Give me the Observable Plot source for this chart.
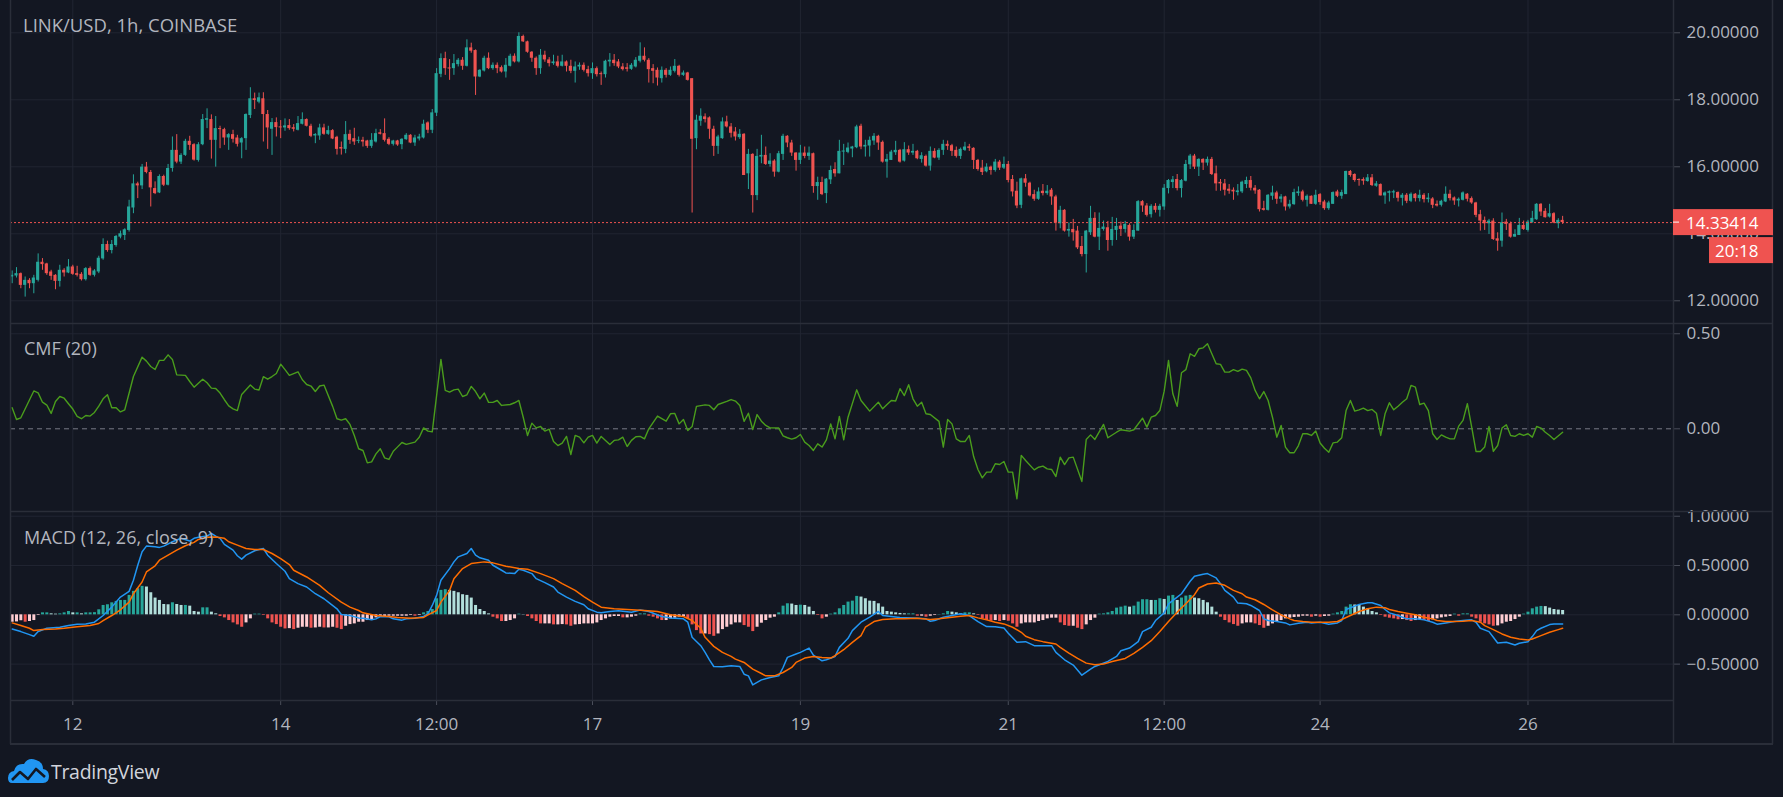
<!DOCTYPE html>
<html><head><meta charset="utf-8">
<script src="https://cdn.jsdelivr.net/npm/d3@7"></script>
<script src="https://cdn.jsdelivr.net/npm/@observablehq/plot@0.6"></script>
<style>
html,body{margin:0;padding:0;background:#131722;}
#wrap{position:relative;width:1783px;height:797px;background:#131722;overflow:hidden;}
#wrap svg.pane{position:absolute;left:0;}
#overlay{position:absolute;left:0;top:0;pointer-events:none;}
</style></head><body><div id="wrap"></div><script>
// ---------- DATA (hourly candles, index 0 = Nov 11 10:00) ----------
const opens = [
12.71,12.74,12.81,12.46,12.61,12.51,12.61,13.15,13.10,12.86,
12.76,12.58,12.91,12.83,13.01,12.81,12.79,12.63,12.96,12.76,
12.86,13.25,13.68,13.50,13.65,13.90,13.95,14.10,14.77,15.49,
15.43,15.99,15.83,15.35,15.22,15.71,15.45,15.95,16.49,16.14,
16.34,16.76,16.66,16.19,16.66,17.39,17.41,16.79,17.14,17.11,
16.86,16.96,16.86,16.71,16.84,17.53,18.03,17.93,18.03,17.56,
17.12,17.32,17.19,17.16,17.23,17.14,17.09,17.27,17.41,17.21,
16.92,16.92,17.16,16.97,17.08,16.88,16.55,16.52,16.97,16.84,
16.76,16.79,16.77,16.61,16.74,16.99,16.99,16.82,16.67,16.77,
16.66,16.81,16.94,16.71,16.83,16.86,17.31,17.09,17.60,18.76,
19.23,18.95,18.93,19.05,19.18,19.00,19.55,19.47,18.68,18.86,
19.24,18.93,19.03,18.96,18.83,19.00,19.30,19.13,19.89,19.73,
19.42,19.24,18.93,19.33,19.19,19.08,19.13,19.00,19.13,19.00,
18.85,18.98,19.03,18.90,18.78,18.93,18.78,18.75,19.13,19.18,
19.13,18.98,18.93,18.91,18.98,19.15,19.30,19.18,18.93,18.88,
18.63,18.88,18.73,18.85,19.00,18.73,18.80,18.63,16.84,17.36,
17.49,17.46,17.12,16.61,16.84,17.34,17.19,17.04,16.87,16.97,
15.79,16.37,15.14,16.29,16.34,16.07,16.17,15.84,16.37,16.91,
16.71,16.41,16.19,16.41,16.31,16.39,15.41,15.53,15.20,15.61,
15.92,15.79,16.44,16.43,16.53,16.57,17.21,16.59,16.62,16.77,
16.91,16.73,16.14,16.19,16.42,16.49,16.17,16.51,16.41,16.46,
16.22,16.31,16.02,16.46,16.26,16.49,16.67,16.63,16.49,16.31,
16.49,16.57,16.55,16.19,15.96,15.85,15.99,15.89,16.14,15.96,
16.07,15.62,15.27,14.85,15.64,15.51,15.17,15.03,15.27,15.20,
15.30,15.10,14.30,14.70,14.08,14.13,14.08,13.62,13.38,14.03,
14.46,13.90,14.13,14.18,13.80,14.10,14.23,14.13,14.25,13.90,
14.08,14.96,14.83,14.57,14.82,14.70,14.80,15.35,15.53,15.62,
15.35,15.57,16.06,16.32,15.99,16.22,16.11,16.22,15.79,15.51,
15.49,15.33,15.30,15.23,15.25,15.47,15.59,15.36,15.30,14.75,
14.70,15.12,15.22,15.03,15.10,14.80,14.87,15.20,15.25,15.00,
15.12,14.88,15.17,14.95,14.75,14.88,15.25,15.12,15.17,15.86,
15.77,15.62,15.62,15.56,15.67,15.42,15.47,15.13,15.21,15.22,
15.23,15.06,15.15,14.97,15.18,15.05,15.15,15.02,15.04,14.88,
14.85,14.95,15.18,15.07,14.98,15.00,15.18,15.05,14.92,14.57,
14.40,14.30,14.38,13.85,13.78,14.35,14.30,13.90,13.95,14.25,
14.10,14.33,14.42,14.88,14.67,14.50,14.60,14.30,14.40];
const highs = [
12.89,12.99,12.83,12.71,12.66,12.76,13.40,13.26,13.12,12.91,
12.78,13.06,12.96,13.23,13.06,13.03,12.84,12.99,13.01,12.93,
13.33,13.85,13.78,13.80,13.95,14.08,14.15,15.00,15.76,15.54,
16.07,16.13,15.89,15.55,15.76,15.75,16.07,16.89,16.96,16.39,
16.82,16.91,16.69,16.72,17.56,17.73,17.55,17.50,17.21,17.15,
16.99,17.09,16.94,16.87,17.58,18.36,18.20,18.20,18.21,17.68,
17.44,17.46,17.38,17.43,17.41,17.26,17.50,17.61,17.43,17.27,
16.99,17.27,17.27,17.21,17.11,16.91,16.74,17.35,17.09,17.15,
16.89,16.88,16.79,16.99,17.12,17.11,17.43,16.87,16.79,16.79,
16.84,16.99,16.96,16.94,16.97,17.39,17.34,17.71,18.93,19.37,
19.42,19.20,19.35,19.23,19.26,19.79,19.69,19.49,18.90,19.30,
19.40,19.10,19.10,19.01,19.23,19.36,19.37,20.00,19.93,19.75,
19.44,19.28,19.50,19.45,19.26,19.33,19.30,19.33,19.16,19.18,
19.13,19.10,19.10,19.00,19.10,18.98,18.83,19.18,19.38,19.35,
19.20,19.08,19.08,19.08,19.26,19.70,19.55,19.23,19.05,18.95,
18.98,18.93,18.98,19.20,19.03,18.86,18.82,18.63,17.54,17.73,
17.58,17.49,17.21,16.94,17.46,17.51,17.29,17.17,17.11,16.99,
16.52,16.39,16.52,16.94,16.59,16.39,16.21,16.46,16.97,16.93,
16.79,16.42,16.64,16.59,16.59,16.41,15.69,15.69,15.65,16.02,
16.12,16.79,16.67,16.71,16.61,17.24,17.27,16.79,16.89,16.99,
16.94,16.77,16.37,16.49,16.76,16.52,16.72,16.62,16.67,16.49,
16.42,16.35,16.59,16.54,16.54,16.79,16.77,16.67,16.59,16.56,
16.73,16.67,16.57,16.22,16.19,16.09,16.02,16.22,16.19,16.29,
16.16,15.74,15.54,15.66,15.77,15.54,15.30,15.37,15.47,15.44,
15.35,15.15,14.82,14.72,14.32,14.43,14.22,13.92,14.10,14.82,
14.63,14.62,14.38,14.37,14.49,14.46,14.35,14.37,14.30,14.27,
14.99,14.99,14.90,14.87,14.90,14.88,15.47,15.62,15.71,15.77,
15.62,16.19,16.37,16.37,16.24,16.24,16.29,16.28,16.02,15.62,
15.62,15.47,15.37,15.47,15.57,15.69,15.71,15.44,15.32,14.97,
15.17,15.42,15.27,15.17,15.12,15.00,15.33,15.40,15.30,15.16,
15.13,15.30,15.20,15.00,14.97,15.25,15.30,15.30,15.87,15.89,
15.79,15.64,15.67,15.77,15.77,15.56,15.49,15.25,15.28,15.30,
15.25,15.20,15.20,15.22,15.20,15.30,15.20,15.20,15.08,14.98,
15.00,15.40,15.30,15.10,15.07,15.25,15.20,15.10,14.94,14.70,
14.50,14.43,14.45,14.03,14.62,14.43,14.35,14.12,14.46,14.38,
14.40,14.67,14.90,14.90,14.75,14.88,14.63,14.45,14.52];
const lows = [
12.51,12.68,12.36,12.11,12.36,12.21,12.56,12.91,12.76,12.61,
12.33,12.41,12.71,12.81,12.76,12.71,12.59,12.59,12.73,12.71,
12.81,13.21,13.45,13.40,13.60,13.85,13.80,14.05,14.60,15.05,
15.32,15.79,14.80,15.17,15.20,15.41,15.43,15.84,16.09,16.07,
16.31,16.49,16.17,16.14,16.63,17.14,16.23,15.99,16.54,16.64,
16.49,16.71,16.59,16.24,16.49,17.44,17.71,17.88,16.74,16.52,
16.34,16.89,16.84,17.06,17.09,17.04,17.07,17.25,17.19,16.87,
16.69,16.79,16.94,16.94,16.81,16.35,16.35,16.39,16.67,16.64,
16.69,16.59,16.55,16.55,16.71,16.95,16.74,16.63,16.62,16.61,
16.51,16.79,16.69,16.61,16.77,16.83,16.99,16.99,17.50,18.66,
18.73,18.58,18.73,18.98,18.88,18.98,19.39,18.13,18.66,18.83,
18.90,18.88,18.78,18.80,18.65,18.98,19.10,19.10,19.71,19.39,
19.12,18.73,18.76,19.12,18.98,19.03,18.95,18.98,18.83,18.78,
18.50,18.88,18.83,18.68,18.61,18.68,18.43,18.65,18.98,19.00,
18.93,18.86,18.83,18.88,18.95,19.10,19.13,18.50,18.48,18.41,
18.50,18.65,18.70,18.80,18.68,18.70,18.56,14.62,16.51,17.21,
17.31,16.82,16.31,16.37,16.82,17.16,16.86,16.77,16.82,15.74,
15.32,14.62,14.99,16.09,16.04,15.99,15.69,15.82,16.19,16.57,
16.31,15.87,16.07,16.24,16.19,15.21,15.00,15.14,14.90,15.47,
15.69,15.79,16.04,16.39,16.27,16.54,16.51,16.29,16.29,16.64,
16.49,16.11,15.66,16.19,16.34,16.11,16.14,16.34,16.34,16.21,
16.11,15.99,15.87,16.24,16.19,16.34,16.49,16.31,16.26,16.22,
16.46,16.46,15.92,15.87,15.74,15.82,15.75,15.84,15.89,15.92,
15.52,15.10,14.75,14.75,15.39,15.10,14.97,15.00,15.13,15.15,
14.85,14.08,14.15,14.05,13.90,13.78,13.53,13.31,12.83,13.95,
13.88,13.50,14.08,13.48,13.63,13.80,13.92,14.02,13.78,13.83,
14.08,14.64,14.50,14.47,14.62,14.50,14.70,15.19,15.35,15.28,
15.07,15.55,15.92,15.92,15.71,15.89,16.02,15.74,15.27,15.27,
15.13,15.18,15.00,15.13,15.20,15.35,15.28,15.18,14.65,14.68,
14.68,15.00,14.88,14.92,14.68,14.74,14.85,15.12,14.95,14.80,
14.88,14.85,14.85,14.70,14.70,14.88,15.08,15.03,15.17,15.69,
15.54,15.42,15.45,15.54,15.41,15.39,15.13,14.88,14.95,15.05,
14.95,14.83,14.90,14.93,14.95,14.95,14.92,14.92,14.75,14.80,
14.80,14.93,14.98,14.85,14.80,14.98,14.95,14.88,14.48,14.08,
14.10,13.98,13.80,13.48,13.60,14.10,13.87,13.90,13.95,14.10,
14.05,14.32,14.40,14.52,14.47,14.47,14.30,14.15,14.28];
const closes = [
12.76,12.81,12.46,12.61,12.51,12.68,13.15,13.08,12.81,12.73,
12.58,12.91,12.83,13.01,12.79,12.76,12.63,12.96,12.76,12.89,
13.27,13.68,13.50,13.68,13.92,14.00,14.12,14.80,15.49,15.43,
15.99,15.83,15.37,15.20,15.71,15.45,15.95,16.49,16.14,16.34,
16.76,16.64,16.20,16.66,17.41,17.41,16.79,17.14,17.11,16.86,
16.96,16.82,16.67,16.84,17.56,18.03,17.98,18.06,17.56,17.16,
17.32,17.17,17.16,17.22,17.14,17.12,17.29,17.41,17.21,16.91,
16.94,17.16,16.97,17.08,16.83,16.52,16.53,16.96,16.79,16.74,
16.79,16.74,16.61,16.79,16.99,16.97,16.79,16.67,16.77,16.65,
16.82,16.94,16.71,16.86,16.89,17.27,17.09,17.61,18.78,19.23,
18.93,18.92,19.08,19.18,19.00,19.55,19.45,18.68,18.88,19.24,
18.93,19.03,18.93,18.83,19.03,19.30,19.13,19.89,19.73,19.42,
19.24,18.93,19.33,19.19,19.08,19.13,19.00,19.13,19.00,18.85,
18.98,19.03,18.88,18.78,18.93,18.75,18.75,19.15,19.18,19.08,
18.98,18.90,18.91,19.03,19.18,19.30,19.18,18.90,18.85,18.65,
18.88,18.73,18.88,19.00,18.73,18.80,18.58,16.82,17.39,17.51,
17.41,17.12,16.61,16.89,17.34,17.19,17.00,16.89,16.97,15.74,
16.37,15.14,16.31,16.34,16.07,16.17,15.84,16.39,16.91,16.71,
16.41,16.19,16.41,16.31,16.41,15.41,15.53,15.17,15.63,15.89,
15.79,16.46,16.47,16.56,16.59,17.19,16.59,16.64,16.79,16.91,
16.71,16.14,16.22,16.44,16.49,16.14,16.51,16.41,16.46,16.24,
16.33,16.02,16.46,16.26,16.49,16.67,16.61,16.46,16.31,16.52,
16.59,16.55,16.19,15.92,15.83,15.99,15.89,16.14,15.96,16.07,
15.59,15.25,14.83,15.64,15.51,15.13,15.03,15.25,15.20,15.27,
15.10,14.32,14.70,14.08,14.13,14.03,13.58,13.38,14.08,14.46,
13.90,14.16,14.20,13.80,14.13,14.22,14.13,14.28,13.90,14.10,
14.96,14.83,14.55,14.82,14.70,14.82,15.36,15.59,15.61,15.35,
15.59,16.07,16.32,15.99,16.22,16.11,16.22,15.77,15.49,15.49,
15.30,15.27,15.25,15.28,15.54,15.59,15.36,15.28,14.72,14.70,
15.15,15.22,15.03,15.10,14.80,14.88,15.23,15.25,15.00,15.12,
14.88,15.15,14.93,14.75,14.92,15.23,15.12,15.23,15.86,15.74,
15.59,15.59,15.57,15.67,15.44,15.49,15.13,15.22,15.23,15.23,
15.06,15.15,14.97,15.18,15.05,15.15,15.02,15.04,14.85,14.83,
14.97,15.18,15.05,14.98,15.03,15.22,15.03,14.92,14.55,14.38,
14.30,14.38,13.83,13.78,14.33,14.28,13.90,13.98,14.25,14.13,
14.35,14.46,14.88,14.65,14.48,14.60,14.32,14.40,14.33414];

// CMF(20): [hour index, value]
const cmfPoints = [[0,.111],[1,.049],[2,.058],[5,.199],[6,.189],[7,.140],[8,.125],[9,.081],[10,.144],[11,.170],[12,.161],[13,.132],[14,.104],[15,.065],[16,.053],[17,.070],[18,.067],[19,.086],[20,.119],[21,.158],[22,.179],[23,.111],[24,.111],[25,.089],[26,.100],[28,.275],[30,.377],[31,.356],[32,.328],[33,.312],[34,.360],[35,.360],[36,.389],[37,.365],[38,.284],[40,.281],[41,.249],[42,.219],[44,.261],[45,.242],[46,.214],[47,.212],[48,.188],[49,.153],[50,.121],[51,.105],[52,.096],[53,.181],[55,.230],[56,.209],[57,.204],[58,.274],[59,.261],[60,.275],[61,.291],[62,.340],[63,.311],[64,.281],[66,.300],[67,.258],[68,.233],[69,.225],[70,.196],[71,.225],[72,.230],[74,.118],[75,.053],[76,.046],[77,.053],[78,.023],[79,-.035],[80,-.105],[81,-.114],[82,-.179],[83,-.174],[84,-.132],[85,-.105],[86,-.153],[87,-.161],[88,-.118],[89,-.095],[90,-.072],[91,-.082],[93,-.070],[94,-.044],[95,.005],[96,-.012],[97,-.016],[99,.365],[100,.202],[101,.193],[102,.205],[103,.209],[104,.170],[105,.179],[106,.223],[107,.196],[108,.158],[109,.188],[110,.139],[111,.139],[112,.149],[113,.123],[115,.128],[116,.137],[117,.149],[118,.061],[119,-.035],[120,.030],[121,.005],[122,.012],[123,-.012],[124,-.002],[125,-.067],[126,-.088],[127,-.075],[128,-.040],[129,-.135],[130,-.035],[131,-.044],[132,-.074],[133,-.044],[134,-.035],[135,-.075],[136,-.040],[138,-.082],[139,-.061],[140,-.058],[141,-.044],[142,-.093],[143,-.061],[144,-.042],[145,-.040],[146,-.053],[147,0],[149,.067],[151,.040],[152,.079],[153,.081],[154,.026],[155,.049],[156,-.009],[157,.012],[158,.118],[160,.126],[161,.123],[162,.100],[163,.128],[165,.144],[166,.154],[167,.146],[168,.123],[169,.039],[170,.082],[171,-.004],[172,.075],[173,.040],[174,.018],[175,.005],[177,.004],[178,-.037],[179,-.047],[180,-.054],[181,-.047],[182,-.030],[183,-.070],[184,-.088],[185,-.114],[186,-.079],[187,-.096],[188,-.058],[189,.026],[190,-.053],[191,.065],[192,-.058],[193,.061],[195,.205],[196,.149],[198,.093],[200,.140],[201,.105],[202,.128],[203,.149],[204,.146],[205,.211],[206,.175],[207,.232],[208,.158],[209,.119],[210,.140],[211,.079],[212,.075],[214,.039],[215,-.096],[216,.049],[217,.026],[218,-.053],[219,-.067],[220,-.067],[221,-.035],[222,-.146],[223,-.214],[224,-.258],[225,-.228],[226,-.228],[227,-.184],[228,-.188],[229,-.172],[230,-.228],[231,-.228],[232,-.368],[233,-.140],[234,-.167],[236,-.216],[237,-.202],[238,-.196],[239,-.211],[240,-.214],[241,-.251],[242,-.149],[243,-.188],[244,-.153],[245,-.149],[247,-.277],[248,-.056],[249,-.032],[250,-.056],[252,.023],[253,-.047],[255,-.018],[256,-.005],[258,-.012],[259,-.005],[261,.056],[262,.009],[263,.061],[264,.070],[265,.096],[266,.198],[267,.360],[268,.184],[269,.118],[270,.295],[271,.311],[272,.395],[273,.381],[274,.421],[275,.426],[276,.447],[277,.395],[278,.342],[279,.339],[280,.298],[281,.298],[282,.311],[283,.302],[284,.314],[285,.307],[286,.268],[287,.202],[288,.158],[289,.196],[290,.149],[291,.061],[292,-.044],[293,.018],[294,-.096],[295,-.126],[296,-.126],[297,-.088],[298,-.026],[299,-.026],[300,-.035],[301,-.012],[302,-.075],[303,-.102],[304,-.123],[305,-.074],[306,-.070],[307,-.047],[308,.096],[309,.149],[310,.093],[311,.100],[312,.109],[313,.096],[314,.102],[315,.082],[316,-.035],[317,.079],[318,.137],[319,.100],[320,.119],[321,.140],[322,.158],[323,.228],[324,.219],[325,.128],[326,.135],[327,.096],[328,-.026],[329,-.056],[330,-.032],[331,-.044],[332,-.053],[333,-.053],[334,.014],[335,.044],[336,.132],[337,.009],[338,-.119],[339,-.119],[340,-.096],[341,.012],[342,-.119],[343,-.088],[344,.004],[345,.021],[346,-.035],[347,-.040],[348,-.026],[349,-.035],[350,-.026],[351,-.044],[352,.012],[353,.004],[354,-.018],[355,-.035],[356,-.056],[358,-.018]];

// MACD line (12,26): [hour index, value]
const macdPoints = [[0,-.143],[2,-.170],[4,-.201],[5,-.218],[6,-.170],[8,-.136],[11,-.126],[13,-.109],[15,-.095],[17,-.092],[19,-.075],[21,-.007],[23,.078],[25,.180],[27,.238],[28,.350],[29,.503],[30,.639],[31,.697],[33,.690],[34,.684],[35,.697],[37,.741],[38,.759],[39,.776],[41,.748],[42,.776],[43,.786],[45,.799],[46,.827],[47,.799],[48,.776],[49,.714],[51,.656],[52,.599],[53,.565],[54,.605],[56,.650],[57,.663],[58,.673],[59,.605],[61,.520],[63,.442],[64,.367],[66,.316],[68,.282],[70,.214],[72,.163],[73,.129],[75,.061],[76,.003],[78,-.007],[80,-.031],[81,-.034],[83,-.051],[84,-.041],[85,-.017],[87,-.020],[88,-.041],[90,-.054],[91,-.041],[93,-.034],[95,-.017],[96,.010],[97,.095],[98,.197],[99,.350],[101,.469],[102,.537],[103,.588],[105,.622],[106,.673],[107,.605],[108,.578],[110,.554],[111,.503],[113,.452],[114,.425],[116,.418],[117,.463],[118,.452],[120,.418],[121,.367],[123,.327],[125,.282],[126,.231],[128,.180],[130,.136],[132,.102],[133,.061],[135,.027],[136,.020],[138,.034],[140,.041],[143,.027],[145,.048],[147,.034],[150,-.017],[152,-.031],[155,-.041],[156,-.075],[157,-.228],[159,-.313],[160,-.381],[161,-.456],[162,-.524],[164,-.527],[166,-.517],[168,-.524],[169,-.602],[170,-.619],[171,-.711],[173,-.660],[175,-.636],[177,-.619],[178,-.534],[179,-.432],[181,-.398],[182,-.381],[184,-.337],[185,-.408],[187,-.466],[188,-.456],[190,-.422],[191,-.330],[193,-.238],[194,-.160],[196,-.075],[198,-.024],[200,.034],[201,-.007],[203,-.017],[205,-.027],[208,-.031],[211,-.041],[212,-.065],[213,-.058],[215,-.024],[217,-.007],[219,.010],[221,-.007],[223,-.068],[225,-.119],[227,-.122],[229,-.133],[230,-.187],[232,-.279],[234,-.272],[236,-.313],[238,-.313],[240,-.313],[241,-.381],[243,-.456],[245,-.510],[247,-.612],[249,-.551],[250,-.524],[253,-.473],[255,-.422],[256,-.364],[258,-.337],[260,-.272],[261,-.170],[263,-.126],[264,-.058],[266,.020],[267,.112],[269,.180],[270,.214],[272,.340],[273,.391],[275,.412],[276,.418],[278,.374],[279,.316],[280,.248],[282,.180],[283,.119],[285,.112],[286,.095],[288,.044],[289,-.041],[290,-.058],[292,-.068],[294,-.082],[295,-.102],[297,-.085],[299,-.075],[300,-.082],[302,-.075],[304,-.095],[306,-.082],[307,-.058],[308,.054],[310,.088],[311,.105],[313,.122],[314,.122],[316,.095],[317,.054],[318,.020],[320,-.007],[322,-.041],[324,-.041],[326,-.051],[328,-.075],[329,-.095],[331,-.082],[333,-.068],[335,-.058],[337,-.051],[338,-.075],[339,-.136],[341,-.170],[342,-.228],[343,-.286],[345,-.279],[347,-.306],[348,-.289],[350,-.272],[351,-.221],[352,-.160],[353,-.136],[355,-.099],[356,-.092],[358,-.092]];

// Signal line (9): [hour index, value]
const signalPoints = [[0,-.082],[2,-.109],[4,-.136],[5,-.160],[7,-.150],[10,-.143],[12,-.136],[15,-.122],[18,-.109],[20,-.088],[21,-.058],[23,-.007],[25,.051],[27,.129],[28,.214],[30,.333],[31,.435],[33,.497],[34,.554],[36,.605],[38,.656],[40,.701],[42,.735],[43,.765],[45,.786],[47,.789],[49,.776],[50,.741],[52,.707],[54,.673],[56,.663],[58,.663],[60,.622],[62,.571],[64,.510],[65,.452],[68,.384],[71,.299],[73,.224],[76,.129],[78,.078],[80,.044],[81,.020],[84,-.007],[87,-.017],[89,-.027],[92,-.034],[95,-.027],[96,0],[98,.044],[99,.129],[101,.248],[102,.367],[104,.469],[106,.520],[109,.537],[111,.527],[114,.493],[117,.469],[119,.463],[122,.418],[125,.367],[127,.316],[130,.248],[132,.185],[134,.129],[136,.078],[139,.061],[143,.051],[146,.044],[149,.034],[152,0],[155,-.017],[157,-.058],[159,-.136],[160,-.228],[162,-.320],[164,-.381],[166,-.422],[167,-.449],[169,-.483],[171,-.551],[173,-.595],[174,-.619],[176,-.619],[178,-.585],[180,-.534],[181,-.483],[183,-.439],[185,-.422],[187,-.432],[189,-.439],[190,-.415],[192,-.354],[194,-.279],[196,-.211],[197,-.126],[199,-.068],[201,-.048],[204,-.041],[206,-.041],[209,-.034],[212,-.048],[214,-.041],[217,-.024],[219,-.014],[221,-.007],[223,-.031],[225,-.051],[227,-.075],[229,-.092],[231,-.126],[233,-.177],[234,-.218],[236,-.252],[238,-.272],[241,-.296],[242,-.330],[244,-.388],[246,-.442],[248,-.490],[250,-.507],[252,-.500],[254,-.473],[257,-.442],[259,-.391],[261,-.330],[263,-.262],[265,-.170],[267,-.068],[269,.027],[271,.112],[273,.204],[274,.272],[276,.313],[278,.323],[280,.299],[282,.248],[284,.214],[285,.180],[287,.153],[289,.105],[291,.051],[293,0],[295,-.041],[296,-.058],[298,-.068],[300,-.075],[302,-.075],[304,-.075],[306,-.068],[307,-.048],[309,-.007],[311,.034],[313,.061],[315,.078],[317,.071],[318,.054],[320,.034],[322,.017],[324,0],[326,-.024],[328,-.041],[329,-.058],[331,-.068],[333,-.068],[335,-.065],[337,-.058],[339,-.075],[340,-.109],[342,-.150],[344,-.194],[346,-.228],[348,-.245],[350,-.255],[351,-.245],[353,-.211],[355,-.177],[357,-.150],[358,-.136]];

// MACD histogram, one value per hour
const histValues = [
-0.075,-0.072,-0.060,-0.075,-0.068,-0.058,-0.007,0.020,0.020,0.010,
0.007,0.010,0.020,0.034,0.020,0.020,0.010,0.020,0.020,0.022,
0.051,0.095,0.102,0.122,0.136,0.146,0.146,0.197,0.238,0.265,
0.289,0.282,0.224,0.170,0.146,0.105,0.102,0.122,0.105,0.095,
0.095,0.088,0.034,0.027,0.071,0.071,0.027,0.010,-0.017,-0.031,
-0.058,-0.082,-0.102,-0.126,-0.082,-0.041,0.007,0.007,-0.007,-0.041,
-0.082,-0.099,-0.126,-0.143,-0.140,-0.150,-0.136,-0.126,-0.126,-0.136,
-0.133,-0.126,-0.133,-0.133,-0.126,-0.136,-0.150,-0.116,-0.099,-0.092,
-0.075,-0.075,-0.058,-0.058,-0.031,-0.024,-0.017,-0.014,-0.014,-0.014,
-0.014,-0.014,-0.007,-0.014,-0.007,0.020,0.034,0.054,0.163,0.248,
0.255,0.248,0.238,0.224,0.204,0.197,0.170,0.095,0.054,0.034,
0.010,-0.024,-0.041,-0.068,-0.068,-0.058,-0.041,0.007,0.003,-0.017,
-0.041,-0.068,-0.092,-0.092,-0.092,-0.102,-0.102,-0.099,-0.102,-0.116,
-0.102,-0.099,-0.092,-0.092,-0.092,-0.082,-0.058,-0.041,-0.024,-0.017,
-0.017,-0.031,-0.031,-0.024,-0.014,0.010,0.010,-0.014,-0.024,-0.041,
-0.058,-0.058,-0.041,-0.034,-0.024,-0.017,-0.041,-0.102,-0.160,-0.194,
-0.194,-0.201,-0.218,-0.194,-0.150,-0.126,-0.102,-0.082,-0.082,-0.109,
-0.126,-0.170,-0.126,-0.085,-0.058,-0.034,-0.024,0.020,0.088,0.112,
0.109,0.095,0.098,0.095,0.078,0.034,-0.007,-0.041,-0.024,0.007,
0.020,0.061,0.095,0.129,0.139,0.187,0.180,0.163,0.139,0.136,
0.112,0.078,0.034,0.027,0.020,0.014,0.010,0.010,0.010,-0.014,
-0.014,-0.024,-0.014,-0.007,0.003,0.010,0.034,0.027,0.020,0.010,
0.020,0.020,0.010,-0.007,-0.041,-0.058,-0.065,-0.058,-0.068,-0.058,
-0.065,-0.092,-0.126,-0.092,-0.082,-0.082,-0.082,-0.068,-0.058,-0.041,
-0.034,-0.034,-0.082,-0.109,-0.116,-0.116,-0.136,-0.150,-0.102,-0.058,
-0.034,0.007,0.010,0.020,0.034,0.068,0.078,0.088,0.078,0.088,
0.129,0.153,0.153,0.146,0.146,0.163,0.156,0.190,0.197,0.146,
0.170,0.190,0.197,0.170,0.163,0.146,0.122,0.078,0.027,-0.024,
-0.058,-0.082,-0.099,-0.116,-0.092,-0.082,-0.082,-0.092,-0.109,-0.136,
-0.116,-0.092,-0.075,-0.058,-0.041,-0.034,-0.027,-0.024,-0.014,-0.014,
-0.024,-0.014,-0.024,-0.017,-0.014,0.007,0.020,0.034,0.078,0.102,
0.100,0.095,0.078,0.061,0.034,0.020,-0.007,-0.024,-0.034,-0.041,
-0.050,-0.048,-0.058,-0.068,-0.058,-0.051,-0.058,-0.068,-0.051,-0.041,
-0.031,-0.024,-0.017,0.007,-0.014,0.010,0.010,-0.024,-0.041,-0.075,
-0.092,-0.102,-0.116,-0.112,-0.092,-0.075,-0.068,-0.048,-0.024,0.007,
0.027,0.061,0.078,0.085,0.083,0.068,0.054,0.048,0.044];

// Axis ticks and labels
const priceTicks = [12, 14, 16, 18, 20];
const cmfTicks = [0.5, 0];
const macdTicks = [1, 0.5, 0, -0.5];
const timeTicks = [14, 62, 98, 134, 182, 230, 266, 302, 350];
const timeLabels = ["12", "14", "12:00", "17", "19", "21", "12:00", "24", "26"];
const titleText = "LINK/USD, 1h, COINBASE";
const cmfTitle = "CMF (20)";
const macdTitle = "MACD (12, 26, close, 9)";
const countdown = "20:18";

// ---------- RENDER ----------
const FONT = "'Open Sans','Noto Sans',sans-serif";
const BG = "#131722", GRID = "#212532", BORDER = "#2a2e39";
const TXT = "#b2b5be", TICK = "#4a4e5a";
const UP = "#26a69a", DOWN = "#ef5350";
const W = 1783, ML = 10, MR = 110;
const xDomain = [-0.385, 383.6];

const candles = closes.map((c, i) => ({i, o: opens[i], h: highs[i], l: lows[i], c}));
const cmf = cmfPoints.map(([i, v]) => ({i, v}));
const macd = macdPoints.map(([i, v]) => ({i, v}));
const signal = signalPoints.map(([i, v]) => ({i, v}));
const hist = histValues.map((v, i) => {
  const p = i > 0 ? histValues[i - 1] : v;
  const col = v >= 0 ? (v >= p ? "#26a69a" : "#b2dfdb") : (v < p ? "#ef5350" : "#ffcdd2");
  return {i, v, col};
});
const fmt = (n) => (d) => d.toFixed(n).replace("-", "\u2212");
const style = {background: "transparent", color: TXT, fontFamily: FONT, fontSize: "17px", overflow: "visible"};
const wrap = document.getElementById("wrap");

function place(svg, top) { svg.classList.add("pane"); svg.style.top = top + "px"; wrap.appendChild(svg); return svg; }

// Price pane
const p1 = Plot.plot({
  width: W, height: 323, marginLeft: ML, marginRight: MR, marginTop: 0, marginBottom: 0,
  style, x: {domain: xDomain, axis: null}, y: {domain: [11.322, 20.964]}, color: {type: "identity"},
  marks: [
    Plot.ruleY(priceTicks, {stroke: GRID}),
    Plot.ruleX(timeTicks, {stroke: GRID}),
    Plot.ruleX(candles, {x: "i", y1: "l", y2: "h", stroke: d => d.c >= d.o ? UP : DOWN, strokeWidth: 1}),
    Plot.rect(candles, {
      x1: d => d.i - 0.36, x2: d => d.i + 0.36,
      y1: d => Math.min(d.o, d.c),
      y2: d => Math.max(d.o, d.c) + (Math.abs(d.o - d.c) < 0.025 ? 0.025 : 0),
      fill: d => d.c >= d.o ? UP : DOWN
    }),
    Plot.ruleY([closes[closes.length - 1]], {stroke: DOWN, strokeDasharray: "2,2", strokeWidth: 1}),
    Plot.axisY(priceTicks, {anchor: "right", tickFormat: fmt(5), tickSize: 6, tickPadding: 7, fontSize: 17, fill: TXT, stroke: TICK, label: null})
  ]
});
place(p1, 0);

// CMF pane
const p2 = Plot.plot({
  width: W, height: 188, marginLeft: ML, marginRight: MR, marginTop: 0, marginBottom: 0,
  style, x: {domain: xDomain, axis: null}, y: {domain: [-0.435, 0.554]},
  marks: [
    Plot.ruleY([0.5], {stroke: GRID}),
    Plot.ruleX(timeTicks, {stroke: GRID}),
    Plot.ruleY([0], {stroke: "#787b86", strokeDasharray: "5,4", strokeWidth: 1}),
    Plot.line(cmf, {x: "i", y: "v", stroke: "#4a9d1c", strokeWidth: 1.4}),
    Plot.axisY(cmfTicks, {anchor: "right", tickFormat: fmt(2), tickSize: 6, tickPadding: 7, fontSize: 17, fill: TXT, stroke: TICK, label: null})
  ]
});
place(p2, 323);

// MACD pane with time axis
const p3 = Plot.plot({
  width: W, height: 233, marginLeft: ML, marginRight: MR, marginTop: 0, marginBottom: 44,
  style, x: {domain: xDomain}, y: {domain: [-0.869, 1.048]}, color: {type: "identity"},
  marks: [
    Plot.ruleY(macdTicks, {stroke: GRID}),
    Plot.ruleX(timeTicks, {stroke: GRID}),
    Plot.ruleX(hist, {x: "i", y1: 0, y2: "v", stroke: "col", strokeWidth: 3}),
    Plot.line(macd, {x: "i", y: "v", stroke: "#2196f3", strokeWidth: 1.5}),
    Plot.line(signal, {x: "i", y: "v", stroke: "#ff6d00", strokeWidth: 1.5}),
    Plot.axisY(macdTicks, {anchor: "right", tickFormat: fmt(5), tickSize: 6, tickPadding: 7, fontSize: 17, fill: TXT, stroke: TICK, label: null}),
    Plot.axisX(timeTicks, {anchor: "bottom", tickFormat: d => timeLabels[timeTicks.indexOf(d)], tickSize: 5, tickPadding: 12, fontSize: 17, fill: TXT, stroke: TICK, label: null})
  ]
});
place(p3, 511);

// Overlay: pane borders, legends, price label, logo
const yPrice = p1.scale("y").apply(closes[closes.length - 1]);
const NS = "http://www.w3.org/2000/svg";
const ov = document.createElementNS(NS, "svg");
ov.setAttribute("id", "overlay"); ov.setAttribute("width", W); ov.setAttribute("height", 797);
function el(tag, attrs, text) {
  const e = document.createElementNS(NS, tag);
  for (const k in attrs) e.setAttribute(k, attrs[k]);
  if (text != null) e.textContent = text;
  ov.appendChild(e); return e;
}
const bl = {stroke: BORDER, "stroke-width": 1.5};
el("line", {x1: 10.5, y1: 0, x2: 10.5, y2: 744, ...bl});
el("line", {x1: 1673.5, y1: 0, x2: 1673.5, y2: 744, ...bl});
el("line", {x1: 1772.5, y1: 0, x2: 1772.5, y2: 744, ...bl});
el("line", {x1: 10, y1: 323.5, x2: 1773, y2: 323.5, ...bl});
el("line", {x1: 10, y1: 511.5, x2: 1773, y2: 511.5, ...bl});
el("line", {x1: 10, y1: 700.5, x2: 1673, y2: 700.5, ...bl});
el("line", {x1: 10, y1: 744, x2: 1773, y2: 744, stroke: BORDER, "stroke-width": 2});

const tStyle = {"font-family": FONT, fill: TXT};
el("text", {x: 23, y: 32, "font-size": 18.5, ...tStyle}, titleText);
el("text", {x: 24, y: 354.5, "font-size": 18, ...tStyle}, cmfTitle);
el("text", {x: 24, y: 543.5, "font-size": 18, ...tStyle}, macdTitle);

el("rect", {x: 1673, y: yPrice - 13, width: 100, height: 26, fill: DOWN});
el("line", {x1: 1673, y1: yPrice, x2: 1679, y2: yPrice, stroke: "#ffffff", "stroke-width": 1});
el("text", {x: 1686, y: yPrice + 6.5, "font-size": 17, "font-family": FONT, fill: "#ffffff"}, closes[closes.length - 1].toFixed(5));
el("rect", {x: 1709, y: yPrice + 15, width: 64, height: 26, fill: DOWN});
el("text", {x: 1715, y: yPrice + 34.5, "font-size": 17, "font-family": FONT, fill: "#ffffff"}, countdown);

// TradingView logo
el("path", {d: "M12 783 Q8 783 8 778 Q8 772 14 771 Q16 763 24 764 Q28 757 36 760 Q43 762 43 769 Q49 770 49 776 Q49 783 43 783 Z", fill: "#2196f3"});
el("polyline", {points: "12,780 20,772 28,779 36,769 45,777", fill: "none", stroke: BG, "stroke-width": 2.6, "stroke-linejoin": "round"});
el("text", {x: 51, y: 779, "font-size": 19.5, "font-family": FONT, fill: "#d1d4dc", "letter-spacing": "-0.3"}, "TradingView");
wrap.appendChild(ov);
</script></body></html>
